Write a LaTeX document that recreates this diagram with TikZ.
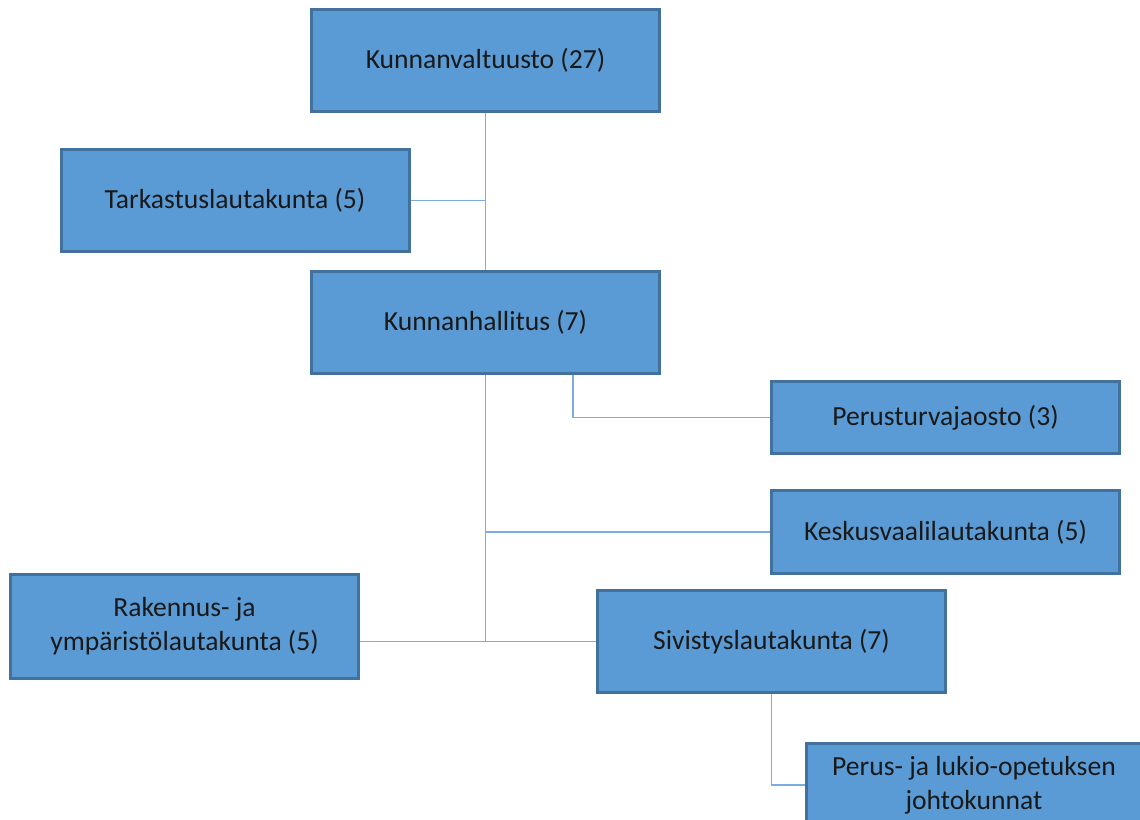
\documentclass[tikz,border=0pt]{standalone}
\usepackage{fontspec}
\setmainfont{Carlito}
\usetikzlibrary{calc}
\definecolor{boxfill}{HTML}{5B9BD5}
\definecolor{boxedge}{HTML}{41719C}
\definecolor{linkblue}{HTML}{7AAEDF}
\tikzset{
	orgbox/.style={draw=boxedge, fill=boxfill, line width=3pt, align=center, inner sep=0pt,
		font=\fontsize{27.6}{34}\selectfont, text=black!90},
	orgline/.style={draw=linkblue, line width=1.5pt}
}

\begin{document}
\begin{tikzpicture}[x=1pt, y=-1pt]
		%%%%% START %%%%%
		\useasboundingbox (0, 0) rectangle (1140, 819);
		
		\node[orgbox, minimum width=348, minimum height=102] (valtuusto) at (485.5, 60.5) {Kunnanvaltuusto (27)};
		\node[orgbox, minimum width=348, minimum height=102] (tarkastus) at (235, 200.5) {Tarkastuslautakunta (5)};
		\node[orgbox, minimum width=348, minimum height=102] (hallitus) at (485.5, 322.5) {Kunnanhallitus (7)};
		
		\node[orgbox, minimum width=348, minimum height=72] (perusturva) at (945.5, 417.5) {Perusturvajaosto (3)};
		\node[orgbox, minimum width=348, minimum height=83] (keskusvaali) at (945.5, 532) {Keskusvaalilautakunta (5)};
		
		\node[orgbox, minimum width=348, minimum height=104] (rakennus) at (184.5, 626.5) {Rakennus- ja\\ympäristölautakunta (5)};
		\node[orgbox, minimum width=348, minimum height=102] (sivistys) at (771.5, 641.5) {Sivistyslautakunta (7)};
		
		\node[orgbox, minimum width=336, minimum height=84] (johtokunnat) at (974, 785) {Perus- ja lukio-opetuksen\\johtokunnat};
		
		\coordinate (pbranch) at (573, 375);
		
		\draw[orgline] (valtuusto.south) -- (hallitus.north);
		\draw[orgline] (tarkastus.east) -- (tarkastus.east -| valtuusto.south);
		
		\draw[orgline] (hallitus.south) -- (hallitus.south |- sivistys.west);
		\draw[orgline] (pbranch) |- (perusturva.west);
		\draw[orgline] (keskusvaali.west) -- (keskusvaali.west -| hallitus.south);
		\draw[orgline] (sivistys.west) -- (sivistys.west -| rakennus.east);
		\draw[orgline] (sivistys.south) |- (johtokunnat.west);
		
		%%%%% END %%%%%
	\end{tikzpicture}
\end{document}
